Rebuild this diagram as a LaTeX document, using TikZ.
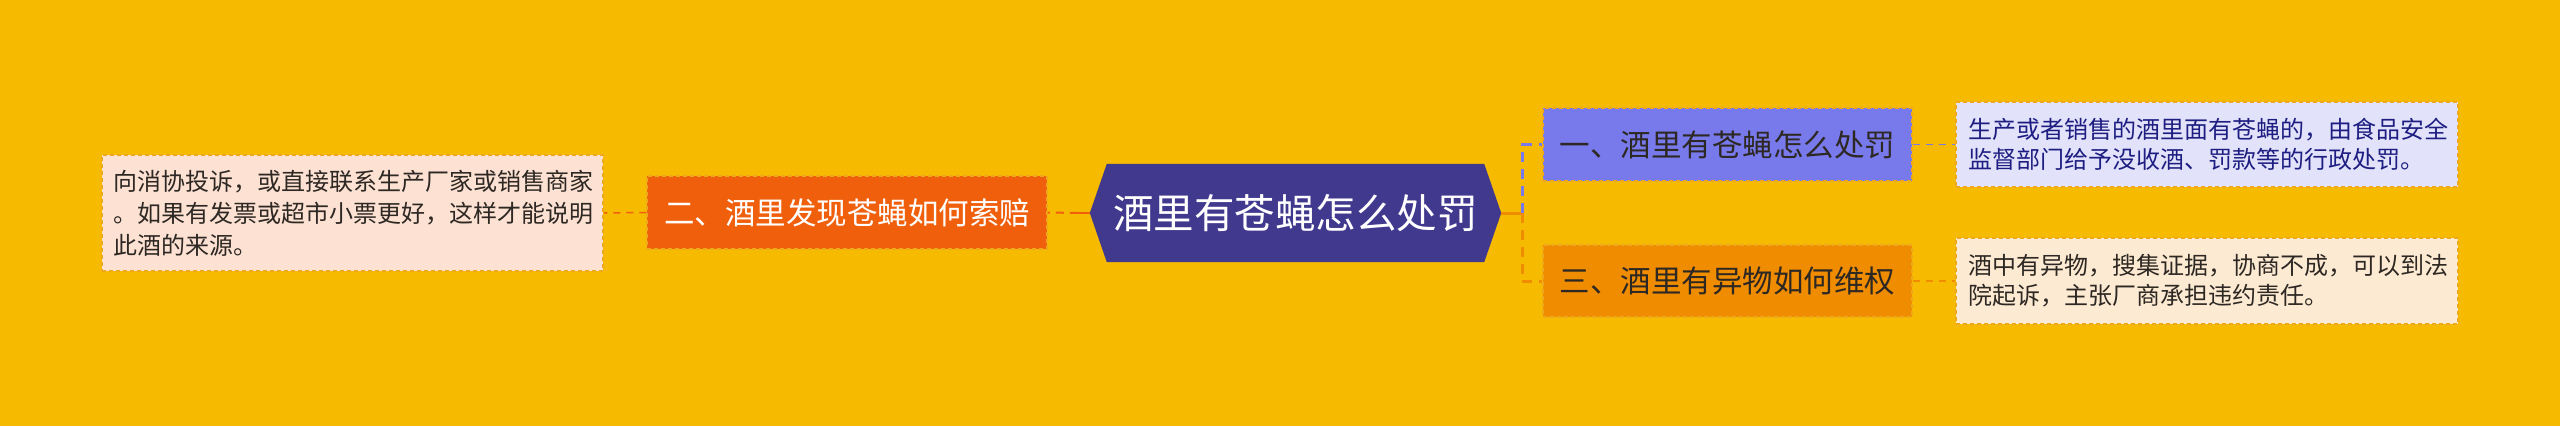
\documentclass[tikz,border=0pt]{standalone}
\usepackage{fontspec}
\newfontfamily\cjk{Noto Sans CJK SC}
\definecolor{bgc}{RGB}{246,186,0}
\definecolor{hexc}{RGB}{64,57,142}
\definecolor{redor}{RGB}{240,96,12}
\definecolor{blu}{RGB}{120,122,235}
\definecolor{oran}{RGB}{240,140,0}
\definecolor{bord}{RGB}{238,168,30}
\definecolor{d1fill}{RGB}{226,227,250}
\definecolor{d1text}{RGB}{30,30,130}
\definecolor{d2fill}{RGB}{253,234,210}
\definecolor{lfill}{RGB}{253,225,210}
\definecolor{darktext}{RGB}{45,40,35}
\tikzset{
  box/.style={draw=bord, line width=1.5pt, dash pattern=on 4pt off 3pt, inner sep=0pt, align=center},
  detail/.style={box, align=left, font=\cjk\fontsize{24}{30}\selectfont, text=darktext},
  conn/.style={line width=2pt, dash pattern=on 8pt off 6pt},
}
\begin{document}
\begin{tikzpicture}[x=1pt,y=-1pt]
\useasboundingbox (0,0) rectangle (2560,426);
\fill[bgc] (0,0) rectangle (2560,426);
% center
\node[minimum width=411pt, minimum height=98pt, inner sep=0pt] (c) at (1295.5,213) {};
\fill[hexc] (c.west) -- ([xshift=17pt]c.north west) -- ([xshift=-17pt]c.north east) -- (c.east) -- ([xshift=-17pt]c.south east) -- ([xshift=17pt]c.south west) -- cycle;
\node[text=white, font=\cjk\fontsize{40.5}{44}\selectfont] (ct) at (c.center) {酒里有苍蝇怎么处罚};
% left branch
\node[box, fill=redor, minimum width=400pt, minimum height=73pt, text=white, font=\cjk\fontsize{30.5}{34}\selectfont] (b2) at (847,212.5) {二、酒里发现苍蝇如何索赔};
\node[detail, fill=lfill, minimum width=501pt, minimum height=116pt, text width=478pt, font=\cjk\fontsize{24}{32}\selectfont] (d2) at (352.5,213) {向消协投诉，或直接联系生产厂家或销售商家\\。如果有发票或超市小票更好，这样才能说明\\此酒的来源。};
% right branches
\node[box, fill=blu, minimum width=369pt, minimum height=73pt, text=darktext, font=\cjk\fontsize{30.5}{34}\selectfont] (b1) at (1727.5,144.5) {一、酒里有苍蝇怎么处罚};
\node[box, fill=oran, minimum width=369pt, minimum height=72pt, text=darktext, font=\cjk\fontsize{30.5}{34}\selectfont] (b3) at (1727.5,281) {三、酒里有异物如何维权};
\node[detail, fill=d1fill, text=d1text, minimum width=502pt, minimum height=85pt, text width=478pt] (d1) at (2207,144.5) {生产或者销售的酒里面有苍蝇的，由食品安全\\监督部门给予没收酒、罚款等的行政处罚。};
\node[detail, fill=d2fill, minimum width=502pt, minimum height=86pt, text width=478pt] (d3) at (2207,281) {酒中有异物，搜集证据，协商不成，可以到法\\院起诉，主张厂商承担违约责任。};
% connectors
\coordinate (j) at ([xshift=21pt]c.east);
\draw[redor, line width=2.5pt] (c.west) -- ([xshift=-12pt]c.west);
\draw[redor, conn] ([xshift=-12pt]c.west) -- (b2.east);
\draw[redor, line width=1.5pt, dash pattern=on 7pt off 6pt] (b2.west) -- (d2.east);
\draw[oran, line width=3pt] (c.east) -- (j);
\draw[blu, line width=3pt, dash pattern=on 10pt off 7pt] (j) |- (b1.west);
\draw[oran, line width=3pt, dash pattern=on 10pt off 7pt] (j) |- (b3.west);
\draw[blu, line width=1.5pt, dash pattern=on 7pt off 6pt] (b1.east) -- (d1.west);
\draw[oran, line width=1.5pt, dash pattern=on 7pt off 6pt] (b3.east) -- (d3.west);
\end{tikzpicture}
\end{document}
